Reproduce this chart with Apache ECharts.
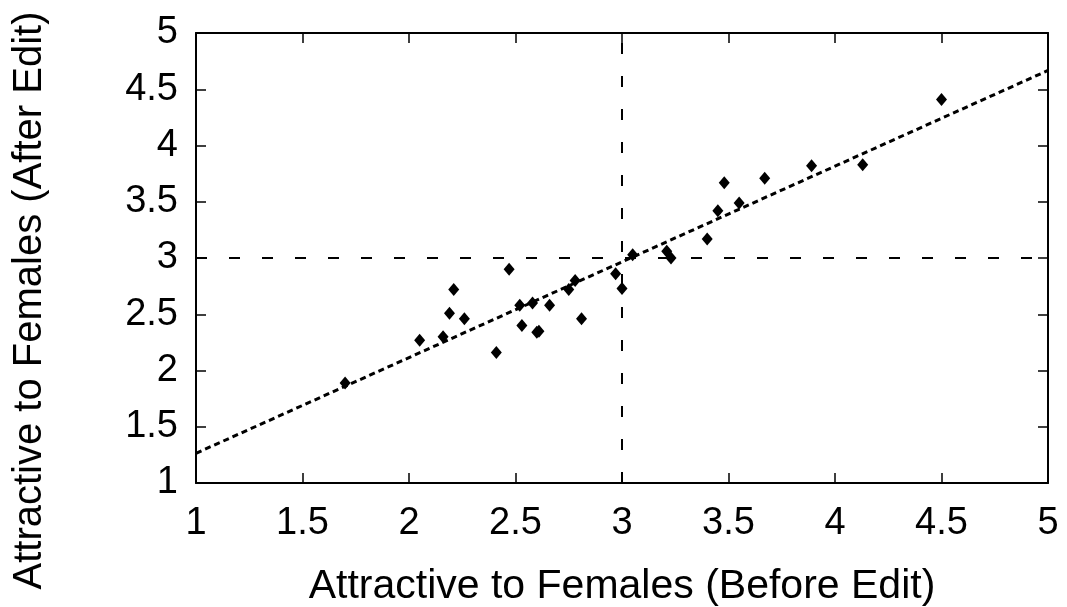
<!DOCTYPE html>
<html>
<head>
<meta charset="utf-8">
<script src="https://cdn.jsdelivr.net/npm/echarts@6/dist/echarts.min.js"></script>
<style>
html, body { margin: 0; padding: 0; background: #fff; }
#chart { width: 1067px; height: 607px; }
</style>
</head>
<body>
<div id="chart"></div>
<script>
// scores
var beforeEdit = [
    1.70, 2.05, 2.16, 2.19, 2.21, 2.26, 2.41, 2.47, 2.52, 2.53,
    2.58, 2.60, 2.61, 2.66, 2.75, 2.78, 2.81, 2.97, 3.00, 3.05,
    3.21, 3.23, 3.40, 3.45, 3.48, 3.55, 3.67, 3.89, 4.13, 4.50];
var afterEdit = [
    1.89, 2.27, 2.30, 2.51, 2.72, 2.46, 2.16, 2.90, 2.58, 2.40,
    2.60, 2.34, 2.35, 2.58, 2.72, 2.80, 2.46, 2.86, 2.73, 3.03,
    3.06, 3.00, 3.17, 3.42, 3.67, 3.49, 3.71, 3.82, 3.83, 4.41];

// fitted line end points
var fitX = [1, 5];
var fitY = [1.264, 4.667];

var splitValue = 3;

var fontName = '"Liberation Sans", Arial, Helvetica, sans-serif';

var myChart = echarts.init(document.getElementById('chart'));

var points = [];
for (var i = 0; i < beforeEdit.length; i++) {
    points.push([beforeEdit[i], afterEdit[i]]);
}
var fitData = [];
for (var j = 0; j < fitX.length; j++) {
    fitData.push([fitX[j], fitY[j]]);
}

function mainAxis(name, gap, pos, labelMargin, nameSize, namePad) {
    return {
        type: 'value',
        position: pos,
        min: 1,
        max: 5,
        interval: 0.5,
        name: name,
        nameLocation: 'middle',
        nameGap: gap,
        nameTextStyle: {
            fontFamily: fontName,
            fontSize: nameSize,
            color: '#000',
            lineHeight: nameSize,
            padding: namePad
        },
        axisLine: { show: true, onZero: false, lineStyle: { color: '#000', width: 2 } },
        axisTick: { show: true, inside: true, length: 10, lineStyle: { color: '#000', width: 1.5 } },
        axisLabel: {
            show: true,
            margin: labelMargin,
            fontFamily: fontName,
            fontSize: 38,
            color: '#000',
            formatter: function (v) { return String(+v.toFixed(1)); }
        },
        splitLine: { show: false }
    };
}

function mirrorAxis(pos) {
    return {
        type: 'value',
        position: pos,
        min: 1,
        max: 5,
        interval: 0.5,
        axisLine: { show: true, onZero: false, lineStyle: { color: '#000', width: 2 } },
        axisTick: { show: true, inside: true, length: 10, lineStyle: { color: '#000', width: 1.5 } },
        axisLabel: { show: false },
        splitLine: { show: false }
    };
}

var option = {
    backgroundColor: '#fff',
    animation: false,
    grid: {
        left: 196,
        right: 19,
        top: 33,
        bottom: 124,
        containLabel: false,
        outerBoundsMode: 'none'
    },
    xAxis: [
        mainAxis('Attractive to Females (Before Edit)', 83, 'bottom', 22, 41, 0),
        mirrorAxis('top')
    ],
    yAxis: [
        mainAxis('Attractive to Females (After Edit)', 146, 'left', 18, 40, [0, 85, 0, 0]),
        mirrorAxis('right')
    ],
    series: [
        {
            name: 'fit',
            type: 'line',
            data: fitData,
            symbol: 'none',
            silent: true,
            lineStyle: { color: '#000', width: 3, type: [6, 4] },
            markLine: {
                silent: true,
                symbol: 'none',
                label: { show: false },
                lineStyle: { color: '#000', width: 2, type: [11, 22] },
                data: [
                    { xAxis: splitValue },
                    { yAxis: splitValue }
                ]
            },
            z: 2
        },
        {
            name: 'edits',
            type: 'scatter',
            data: points,
            symbol: 'diamond',
            symbolSize: [11, 13],
            itemStyle: { color: '#000', opacity: 1 },
            z: 3
        }
    ]
};

myChart.setOption(option);
</script>
</body>
</html>
